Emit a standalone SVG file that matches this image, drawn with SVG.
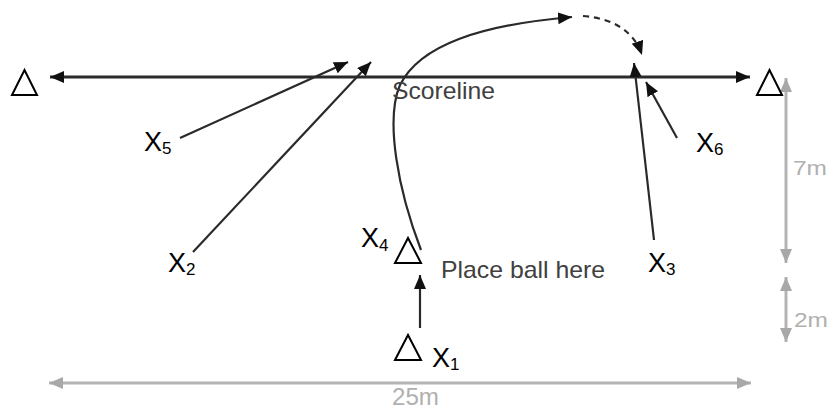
<svg xmlns="http://www.w3.org/2000/svg" width="832" height="410" viewBox="0 0 832 410">
  <style>
    .cone { fill: #fff; stroke: #000; stroke-width: 2; stroke-linejoin: miter; }
    .lbl { font-family: "Liberation Sans", Arial, sans-serif; font-size: 27px; fill: #000; }
    .sub { font-size: 17px; }
    .run { fill: none; stroke: #2a2a2a; stroke-width: 2.2; }
    .score { fill: none; stroke: #2a2a2a; stroke-width: 3; }
    .dim { fill: none; stroke: #b4b4b4; stroke-width: 3; }
    .dimtxt { font-family: "Liberation Sans", Arial, sans-serif; fill: #b0b0b0; }
    .note { font-family: "Liberation Sans", Arial, sans-serif; fill: #404040; }
  </style>
  <defs>
    <marker id="ah" markerUnits="userSpaceOnUse" markerWidth="16" markerHeight="14" refX="14" refY="6" orient="auto-start-reverse" viewBox="0 0 16 14">
      <path d="M0,0 L14,6 L0,12 z" fill="#111"/>
    </marker>
    <marker id="gh" markerUnits="userSpaceOnUse" markerWidth="16" markerHeight="14" refX="14" refY="6" orient="auto-start-reverse" viewBox="0 0 16 14">
      <path d="M0,0 L14,6 L0,12 z" fill="#a8a8a8"/>
    </marker>
  </defs>
  <rect width="832" height="410" fill="#fff"/>

  <g id="connectors">
    <line id="scoreline" class="score" x1="50" y1="77" x2="750" y2="77" marker-start="url(#ah)" marker-end="url(#ah)"/>
    <line class="run" x1="180" y1="138" x2="348" y2="62" marker-end="url(#ah)"/>
    <line class="run" x1="193" y1="252" x2="371" y2="62" marker-end="url(#ah)"/>
    <path class="run" d="M421,250 C398,190 385,120 400,85 C420,45 480,25 572,17" marker-end="url(#ah)"/>
    <path class="run" d="M583,16 Q630,20 642,55" stroke-dasharray="6 5" marker-end="url(#ah)"/>
    <line class="run" x1="654" y1="240" x2="634" y2="63" marker-end="url(#ah)"/>
    <line class="run" x1="677" y1="138" x2="646" y2="82" marker-end="url(#ah)"/>
    <line class="run" x1="420" y1="328" x2="420" y2="275" stroke="#444" marker-end="url(#ah)"/>
  </g>

  <g id="dimensions">
    <line class="dim" x1="786" y1="78" x2="786" y2="263" marker-start="url(#gh)" marker-end="url(#gh)"/>
    <line class="dim" x1="786" y1="277" x2="786" y2="342" marker-start="url(#gh)" marker-end="url(#gh)"/>
    <line class="dim" x1="49" y1="383" x2="751" y2="383" marker-start="url(#gh)" marker-end="url(#gh)"/>
    <text class="dimtxt" x="793" y="175" font-size="21" textLength="34" lengthAdjust="spacingAndGlyphs">7m</text>
    <text class="dimtxt" x="794" y="327" font-size="21" textLength="34" lengthAdjust="spacingAndGlyphs">2m</text>
    <text class="dimtxt" x="392" y="405" font-size="24" textLength="47" lengthAdjust="spacingAndGlyphs">25m</text>
  </g>

  <g id="cone-left"><polygon class="cone" points="12,95 24.5,70 37,95"/></g>
  <g id="cone-right"><polygon class="cone" points="757,95 769.5,70 782,95"/></g>

  <g id="scoreline-label"><text class="note" x="392" y="99" font-size="24" textLength="103" lengthAdjust="spacingAndGlyphs">Scoreline</text></g>

  <g id="x5"><text class="lbl" x="144" y="151">X<tspan class="sub" dy="3">5</tspan></text></g>
  <g id="x2"><text class="lbl" x="168" y="272">X<tspan class="sub" dy="3">2</tspan></text></g>
  <g id="x4">
    <text class="lbl" x="361" y="247">X<tspan class="sub" dy="4">4</tspan></text>
    <polygon class="cone" points="395,263 408,238 421,263"/>
  </g>
  <g id="place-ball"><text class="note" x="441" y="278" font-size="24" textLength="164" lengthAdjust="spacingAndGlyphs">Place ball here</text></g>
  <g id="x3"><text class="lbl" x="648" y="272">X<tspan class="sub" dy="3">3</tspan></text></g>
  <g id="x6"><text class="lbl" x="696" y="152">X<tspan class="sub" dy="3">6</tspan></text></g>
  <g id="x1">
    <polygon class="cone" points="395,360 408,335 421,360"/>
    <text class="lbl" x="432" y="367">X<tspan class="sub" dy="3">1</tspan></text>
  </g>
</svg>
